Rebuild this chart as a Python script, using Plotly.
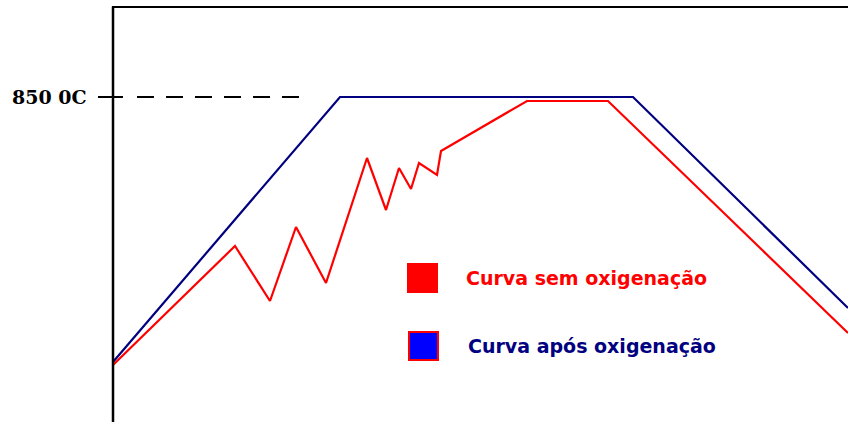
import plotly.graph_objects as go

# time (arbitrary units) and temperature (°C)
t_apos = [0, 227, 520, 735]
T_apos = [320, 850, 850, 428]

t_sem = [0, 122, 157, 183, 213, 254, 273, 286, 298, 306, 324, 328, 414, 495, 735]
T_sem = [314, 552, 442, 590, 478, 728, 624, 708, 666, 718, 694, 742, 842, 842, 378]

ref_T = 850
ref_label = "850 0C"
legend_labels = ["Curva sem oxigenação", "Curva após oxigenação"]

W, H = 848, 422
x_range = [-113, 735]
y_range = [200, 1044]

fig = go.Figure()
fig.add_trace(go.Scatter(x=t_apos, y=T_apos, mode="lines",
                         line=dict(color="#000080", width=2.2), showlegend=False, hoverinfo="skip"))
fig.add_trace(go.Scatter(x=t_sem, y=T_sem, mode="lines",
                         line=dict(color="#FF0000", width=2.2), showlegend=False, hoverinfo="skip"))

shapes = []
# vertical axis line
shapes.append(dict(type="line", xref="x", yref="y", x0=0, x1=0, y0=y_range[0], y1=1031,
                   line=dict(color="black", width=2.5)))
# top border
shapes.append(dict(type="line", xref="x", yref="y", x0=-1, x1=x_range[1], y0=1030, y1=1030,
                   line=dict(color="black", width=2)))
# tick at 850
shapes.append(dict(type="line", xref="x", yref="y", x0=-15, x1=10, y0=ref_T, y1=ref_T,
                   line=dict(color="black", width=2)))
# dashed reference
shapes.append(dict(type="line", xref="x", yref="y", x0=24, x1=194, y0=ref_T, y1=ref_T,
                   line=dict(color="black", width=2, dash="17px,12px")))

def px_x(p):
    return p / W

def px_y(p):
    return 1 - p / H

# legend squares
shapes.append(dict(type="rect", xref="paper", yref="paper",
                   x0=px_x(407), x1=px_x(438), y0=px_y(293), y1=px_y(263),
                   fillcolor="#FF0000", line=dict(width=0)))
shapes.append(dict(type="rect", xref="paper", yref="paper",
                   x0=px_x(409), x1=px_x(438), y0=px_y(360), y1=px_y(332),
                   fillcolor="#0000FF", line=dict(color="#FF0000", width=2)))

annotations = [
    dict(xref="paper", yref="y", x=px_x(89), y=ref_T, text=ref_label, showarrow=False,
         xanchor="right", yanchor="middle",
         font=dict(family="DejaVu Serif", size=19, color="black", weight="bold")),
    dict(xref="paper", yref="paper", x=px_x(464), y=px_y(278), text=legend_labels[0], showarrow=False,
         xanchor="left", yanchor="middle",
         font=dict(family="DejaVu Sans", size=19, color="#FF0000", weight="bold")),
    dict(xref="paper", yref="paper", x=px_x(466), y=px_y(346), text=legend_labels[1], showarrow=False,
         xanchor="left", yanchor="middle",
         font=dict(family="DejaVu Sans", size=19, color="#000080", weight="bold")),
]

fig.update_layout(
    width=W, height=H,
    margin=dict(l=0, r=0, t=0, b=0),
    paper_bgcolor="white", plot_bgcolor="white",
    xaxis=dict(range=x_range, visible=False, fixedrange=True),
    yaxis=dict(range=y_range, visible=False, fixedrange=True),
    shapes=shapes, annotations=annotations,
    showlegend=False,
)

fig.write_html("out.html", config={"displayModeBar": False},
               post_script="document.body.style.margin='0';document.body.style.overflow='hidden';")
